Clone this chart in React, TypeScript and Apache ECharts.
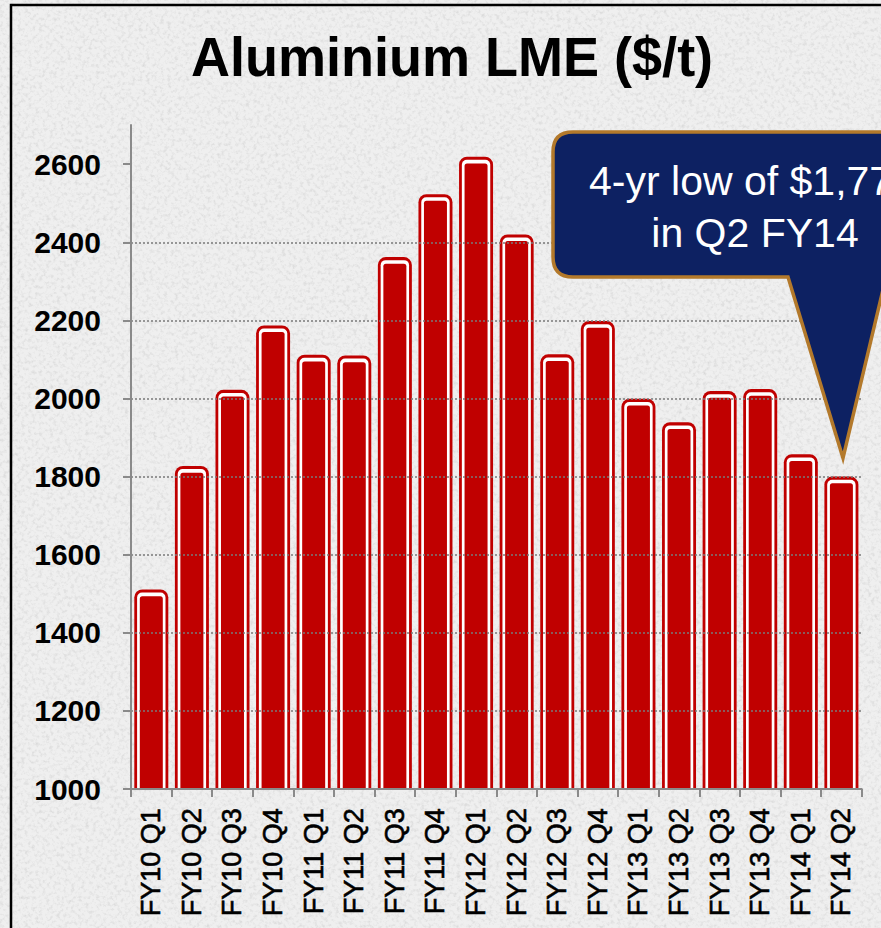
import React, { useEffect, useRef } from "react";
import * as echarts from "echarts";

const categories = [
  "FY10 Q1", "FY10 Q2", "FY10 Q3", "FY10 Q4",
  "FY11 Q1", "FY11 Q2", "FY11 Q3", "FY11 Q4",
  "FY12 Q1", "FY12 Q2", "FY12 Q3", "FY12 Q4",
  "FY13 Q1", "FY13 Q2", "FY13 Q3", "FY13 Q4",
  "FY14 Q1", "FY14 Q2",
];
const prices = [
  1494, 1810, 2005, 2170,
  2095, 2093, 2345, 2506,
  2602, 2403, 2096, 2181,
  1982, 1922, 2002, 2007,
  1840, 1783,
];
const yTickValues = [1000, 1200, 1400, 1600, 1800, 2000, 2200, 2400, 2600];
const Y_MIN = 1000;
const Y_MAX = 2700;
const titleText = "Aluminium LME ($/t)";
const calloutLines = ["4-yr low of $1,773", "in Q2 FY14"];

const RED = "#c00000";
const FONT = '"Liberation Sans", Arial, sans-serif';

const calloutD =
  "M 573 132 L 937 132 Q 957 132 957 152 L 957 257 Q 957 277 937 277 L 886 277 L 843 458 L 788 277 L 573 277 Q 553 277 553 257 L 553 152 Q 553 132 573 132 Z";

let registered = false;
function ensureShape() {
  if (registered) return;
  try {
    echarts.graphic.registerShape("callout", echarts.graphic.extendPath(calloutD, {}));
  } catch (e) {}
  registered = true;
}

const noiseSvg =
  "<svg xmlns='http://www.w3.org/2000/svg' width='881' height='928'>" +
  "<filter id='n' x='0' y='0' width='100%' height='100%'>" +
  "<feTurbulence type='fractalNoise' baseFrequency='0.28' numOctaves='3' seed='7'/>" +
  "<feColorMatrix type='matrix' values='0 0 0 0 0.45  0 0 0 0 0.45  0 0 0 0 0.45  1.6 0 0 0 -0.75'/>" +
  "</filter>" +
  "<rect width='100%' height='100%' fill='#efefef'/>" +
  "<rect width='100%' height='100%' filter='url(#n)' opacity='0.5'/>" +
  "</svg>";
const bgUrl = "url(\"data:image/svg+xml;charset=utf-8," + encodeURIComponent(noiseSvg) + "\")";

export default function App() {
  const ref = useRef<HTMLDivElement>(null);

  useEffect(() => {
    document.body.style.margin = "0";
    ensureShape();
    if (!ref.current) return;
    const chart = echarts.init(ref.current, null, { renderer: "svg" });

    const option: any = {
      animation: false,
      backgroundColor: "transparent",
      grid: { left: 131, right: 19.3, top: 125.1, bottom: 138.9, containLabel: false },
      xAxis: {
        type: "category",
        data: categories,
        z: 5,
        axisLine: { show: true, lineStyle: { color: "#8a8a8a", width: 2 } },
        axisTick: { show: true, length: 8, lineStyle: { color: "#8a8a8a", width: 2 } },
        axisLabel: {
          rotate: 90,
          interval: 0,
          margin: 19,
          fontSize: 27,
          color: "#000",
          textBorderColor: "#000",
          textBorderWidth: 0.6,
          fontFamily: FONT,
        },
        splitLine: { show: false },
      },
      yAxis: {
        type: "value",
        min: Y_MIN,
        max: Y_MAX,
        interval: 200,
        z: 5,
        axisLine: { show: true, lineStyle: { color: "#8a8a8a", width: 2 } },
        axisTick: { show: true, length: 8, customValues: yTickValues, lineStyle: { color: "#8a8a8a", width: 2 } },
        axisLabel: {
          customValues: yTickValues,
          margin: 30,
          fontSize: 30,
          fontWeight: "bold",
          color: "#000",
          fontFamily: FONT,
          formatter: (v: number) => (yTickValues.indexOf(v) >= 0 ? String(v) : ""),
        },
        splitLine: {
          show: true,
          showMinLine: false,
          showMaxLine: false,
          lineStyle: { color: "#7a7a7a", width: 1.5, type: [2, 2] },
        },
      },
      series: [
        {
          type: "custom",
          data: prices.map((v, i) => [i, v]),
          encode: { x: 0, y: 1 },
          z: 2,
          renderItem: (params: any, api: any) => {
            const top = api.coord([api.value(0), api.value(1)]);
            const base = api.coord([api.value(0), Y_MIN]);
            const cx = top[0];
            const h = base[1] - top[1];
            const inner = 23;
            const white = 2.7;
            const red = 2.8;
            const topWhite = 3.6;
            const topRed = 3.1;
            return {
              type: "group",
              children: [
                {
                  type: "rect",
                  shape: {
                    x: cx - inner / 2 - white - red,
                    y: top[1] - topWhite - topRed,
                    width: inner + 2 * (white + red),
                    height: h + topWhite + topRed,
                    r: [8, 8, 0, 0],
                  },
                  style: { fill: RED },
                },
                {
                  type: "rect",
                  shape: {
                    x: cx - inner / 2 - white,
                    y: top[1] - topWhite,
                    width: inner + 2 * white,
                    height: h + topWhite,
                    r: [5, 5, 0, 0],
                  },
                  style: { fill: "#ffffff" },
                },
                {
                  type: "rect",
                  shape: { x: cx - inner / 2, y: top[1], width: inner, height: h, r: [2.5, 2.5, 0, 0] },
                  style: { fill: RED },
                },
              ],
            };
          },
        },
      ],
      graphic: [
        {
          type: "polyline",
          z: 50,
          shape: { points: [[11, 928], [11, 5], [881, 5]] },
          style: { stroke: "#000", lineWidth: 2.5, fill: null },
        },
        {
          type: "text",
          x: 452,
          y: 57,
          scaleX: 0.965,
          z: 50,
          style: {
            text: titleText,
            fontSize: 56,
            fontWeight: "bold",
            fontFamily: FONT,
            fill: "#000",
            align: "center",
            verticalAlign: "middle",
          },
        },
        {
          type: "callout",
          x: 0,
          y: 0,
          z: 60,
          style: { fill: "#0d2162", stroke: "#b3792b", lineWidth: 3.5 },
        },
        {
          type: "text",
          x: 752,
          y: 181,
          z: 61,
          style: {
            text: calloutLines[0],
            fontSize: 41,
            fontFamily: FONT,
            fill: "#ffffff",
            align: "center",
            verticalAlign: "middle",
          },
        },
        {
          type: "text",
          x: 755,
          y: 233,
          z: 61,
          style: {
            text: calloutLines[1],
            fontSize: 41,
            fontFamily: FONT,
            fill: "#ffffff",
            align: "center",
            verticalAlign: "middle",
          },
        },
      ],
    };

    chart.setOption(option);
    return () => {
      chart.dispose();
    };
  }, []);

  return (
    <div
      ref={ref}
      style={{
        width: 881,
        height: 928,
        backgroundColor: "#e8e8e8",
        backgroundImage: bgUrl,
        overflow: "hidden",
      }}
    />
  );
}
